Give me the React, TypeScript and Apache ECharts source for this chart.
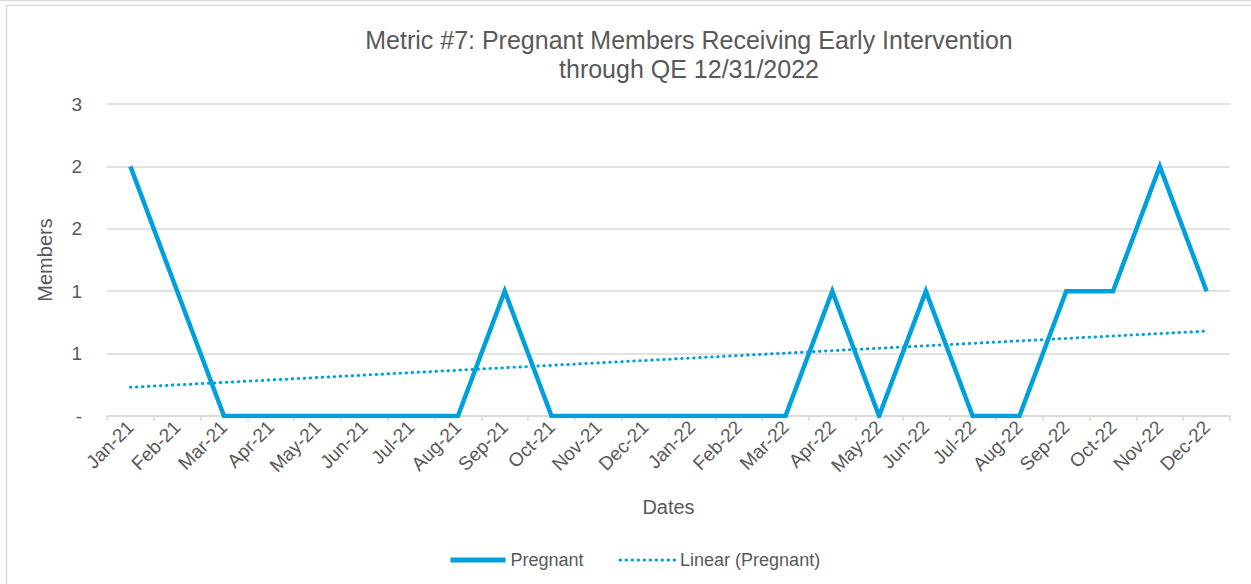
import React, { useEffect, useRef } from "react";
import * as echarts from "echarts";

const categories = [
  "Jan-21", "Feb-21", "Mar-21", "Apr-21", "May-21", "Jun-21", "Jul-21", "Aug-21",
  "Sep-21", "Oct-21", "Nov-21", "Dec-21", "Jan-22", "Feb-22", "Mar-22", "Apr-22",
  "May-22", "Jun-22", "Jul-22", "Aug-22", "Sep-22", "Oct-22", "Nov-22", "Dec-22",
];
const pregnant = [2, 1, 0, 0, 0, 0, 0, 0, 1, 0, 0, 0, 0, 0, 0, 1, 0, 1, 0, 0, 1, 1, 2, 1];
const trendStart = 0.23;
const trendEnd = 0.68;
const yTicks = [0, 0.5, 1, 1.5, 2, 2.5];

const FONT = "'Liberation Sans', Arial, sans-serif";
const TXT = "#595959";
const GRID = "#d9d9d9";
const BLUE = "#00A0DC";

export default function App() {
  const ref = useRef<HTMLDivElement>(null);
  useEffect(() => {
    document.body.style.margin = "0";
    const chart = echarts.init(ref.current!, undefined, { renderer: "svg" });
    const trend = categories.map((_, i) =>
      i === 0 ? trendStart : i === categories.length - 1 ? trendEnd : null
    );
    chart.setOption({
      animation: false,
      textStyle: { fontFamily: FONT, color: TXT },
      title: {
        text: "Metric #7: Pregnant Members Receiving Early Intervention\nthrough QE 12/31/2022",
        left: 684,
        top: 20,
        textAlign: "center",
        textStyle: { fontFamily: FONT, fontSize: 25, fontWeight: "normal", color: TXT, lineHeight: 29 },
      },
      graphic: [
        { type: "rect", shape: { x: 6.5, y: 5.5, width: 1400, height: 800 }, style: { fill: "none", stroke: GRID, lineWidth: 1.5 }, silent: true },
        { type: "line", shape: { x1: 0, y1: 0.5, x2: 1251, y2: 0.5 }, style: { stroke: GRID, lineWidth: 1.5 }, silent: true },
      ],
      legend: {
        left: 443,
        top: 546,
        itemWidth: 55,
        itemHeight: 14,
        itemGap: 35,
        itemStyle: { opacity: 0 },
        textStyle: { fontFamily: FONT, fontSize: 18, color: TXT },
        data: [
          { name: "Pregnant", lineStyle: { width: 5 } },
          { name: "Linear (Pregnant)", lineStyle: { width: 3 } },
        ],
      },
      grid: { left: 107, right: 21, top: 104, bottom: 168, containLabel: false },
      xAxis: {
        type: "category",
        data: categories,
        boundaryGap: true,
        name: "Dates",
        nameLocation: "middle",
        nameGap: 81,
        nameTextStyle: { fontFamily: FONT, fontSize: 20, color: TXT },
        axisLine: { lineStyle: { color: GRID, width: 1.5 } },
        axisTick: { show: true, alignWithLabel: false, length: 5, lineStyle: { color: GRID, width: 1.5 } },
        axisLabel: { rotate: 45, fontFamily: FONT, fontSize: 19, color: TXT, margin: 8, interval: 0 },
      },
      yAxis: {
        type: "value",
        min: 0,
        max: 2.5,
        interval: 0.5,
        name: "Members",
        nameLocation: "middle",
        nameGap: 52,
        nameTextStyle: { fontFamily: FONT, fontSize: 20, color: TXT },
        axisLine: { show: false },
        axisTick: { show: false },
        splitLine: { lineStyle: { color: GRID, width: 1.5 } },
        axisLabel: {
          fontFamily: FONT,
          fontSize: 19,
          color: TXT,
          margin: 25,
          customValues: yTicks,
          formatter: (v: number) => (v === 0 ? "-" : String(Math.round(v))),
        },
      },
      series: [
        {
          name: "Pregnant",
          type: "line",
          data: pregnant,
          symbol: "none",
          lineStyle: { color: BLUE, width: 4.5, join: "miter" },
          itemStyle: { color: BLUE },
        },
        {
          name: "Linear (Pregnant)",
          type: "line",
          data: trend,
          connectNulls: true,
          symbol: "none",
          lineStyle: { color: BLUE, width: 3, type: [0.5, 5.5], cap: "round" },
          itemStyle: { color: BLUE },
        },
      ],
    });
    return () => chart.dispose();
  }, []);
  return <div ref={ref} style={{ width: 1251, height: 584 }} />;
}
